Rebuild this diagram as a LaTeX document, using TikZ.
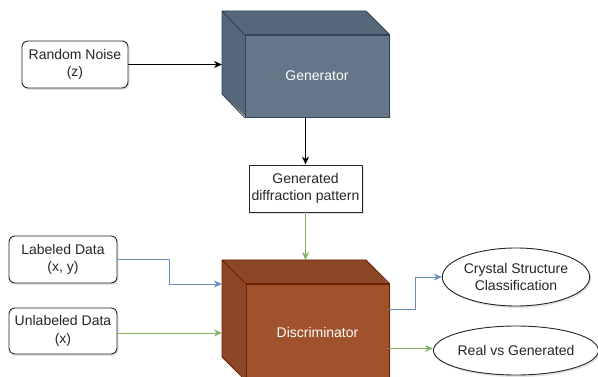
\documentclass[tikz,border=0pt]{standalone}
\usepackage{fontspec}
\setmainfont{Liberation Sans}
\usetikzlibrary{arrows.meta,calc,shapes.geometric,shadows}
\definecolor{genfront}{HTML}{647687}
\definecolor{genside}{HTML}{56677A}
\definecolor{genline}{HTML}{314354}
\definecolor{disfront}{HTML}{A0522D}
\definecolor{disside}{HTML}{8C4727}
\definecolor{disline}{HTML}{6D1F00}
\definecolor{blueln}{HTML}{6C8EBF}
\definecolor{greenln}{HTML}{82B366}
\tikzset{
  txt/.style={font=\fontsize{14}{17.5}\selectfont, align=center, text=black!85},
  shad/.style={drop shadow={opacity=0.22, shadow xshift=1.5pt, shadow yshift=-2pt}},
  inbox/.style={txt, shad, draw=black!85, fill=white, rounded corners=6pt, line width=0.9pt, inner sep=0pt},
  sqbox/.style={txt, shad, draw=black!85, fill=white, line width=0.9pt, inner sep=0pt},
  outell/.style={txt, shad, ellipse, draw=black!85, fill=white, line width=0.9pt, inner sep=0pt},
  cubefront/.style={draw, line width=0.9pt, inner sep=0pt, font=\fontsize{14}{17.5}\selectfont, text=white},
  ghost/.style={inner sep=0pt, outer sep=0pt},
  arr/.style={-{Stealth[length=8pt,width=7pt,inset=2.5pt]}, line width=0.9pt},
}
\begin{document}
\begin{tikzpicture}[x=1pt,y=-1pt]
\useasboundingbox (0,0) rectangle (598,377);
\begin{scope}
\clip (0,0) rectangle (598,377);
% Generator cube
\node[ghost, minimum width=144pt, minimum height=83pt] (genback) at (294,52.5) {};
\fill[genside, shad] (genback.north west) -- (genback.north east) -- ++(23,23) -- ++(0,82) -- ++(-144,0) -- (genback.south west) -- cycle;
\node[cubefront, fill=genfront, draw=genline, minimum width=144pt, minimum height=82pt] (gen) at (317,76) {Generator};
\draw[genline, line width=0.9pt, line join=round] (genback.north west) -- (genback.north east) -- (gen.north east) -- (gen.north west) -- cycle
  (genback.north west) -- (genback.south west) -- (gen.south west);
% Discriminator cube
\node[ghost, minimum width=144pt, minimum height=97pt] (disback) at (294,308.5) {};
\fill[disside, shad] (disback.north west) -- (disback.north east) -- ++(23,24) -- ++(0,96) -- ++(-143,0) -- (disback.south west) -- cycle;
\node[cubefront, fill=disfront, draw=disline, minimum width=143pt, minimum height=96pt] (disc) at (317.5,332) {Discriminator};
\draw[disline, line width=0.9pt, line join=round] (disback.north west) -- (disback.north east) -- (disc.north east) -- (disc.north west) -- cycle
  (disback.north west) -- (disback.south west) -- (disc.south west);
\end{scope}
% boxes
\node[inbox, minimum width=106pt, minimum height=47pt] (noise) at (75,64.5) {Random Noise\\(z)};
\node[sqbox, minimum width=113pt, minimum height=47pt] (diff) at (305.5,188.5) {Generated\\diffraction pattern};
\node[inbox, minimum width=108pt, minimum height=47pt] (lab) at (63,259.5) {Labeled Data\\(x, y)};
\node[inbox, minimum width=108pt, minimum height=46pt] (unlab) at (63,331) {Unlabeled Data\\(x)};
\node[outell, minimum width=140pt, minimum height=58pt] (cls) at (516,277) {Crystal Structure\\Classification};
\node[outell, minimum width=140pt, minimum height=49pt] (real) at (516,350.5) {Real vs Generated};
\coordinate (labin) at ($(disback.west |- lab.east)+(0,24.5)$);
\coordinate (clsout) at ($(disc.east)+(0,-23)$);
% connectors
\draw[arr, black] (noise.east) -- (noise.east -| genback.west);
\draw[arr, black] (diff.north |- gen.south) -- (diff.north);
\draw[arr, greenln] (diff.south) -- (diff.south |- disback.north);
\draw[arr, blueln] (lab.east) -| ($(lab.east)!.5!(labin)$) |- (labin);
\draw[arr, greenln] ([yshift=-2pt]unlab.east) -- ([yshift=-2pt]unlab.east -| disback.west);
\draw[arr, blueln] (clsout) -| ($(clsout)!.5!(cls.west)$) |- (cls.west);
\draw[arr, greenln] ([yshift=2pt]real.west -| disc.east) -- ([yshift=2pt]real.west);
\end{tikzpicture}
\end{document}
